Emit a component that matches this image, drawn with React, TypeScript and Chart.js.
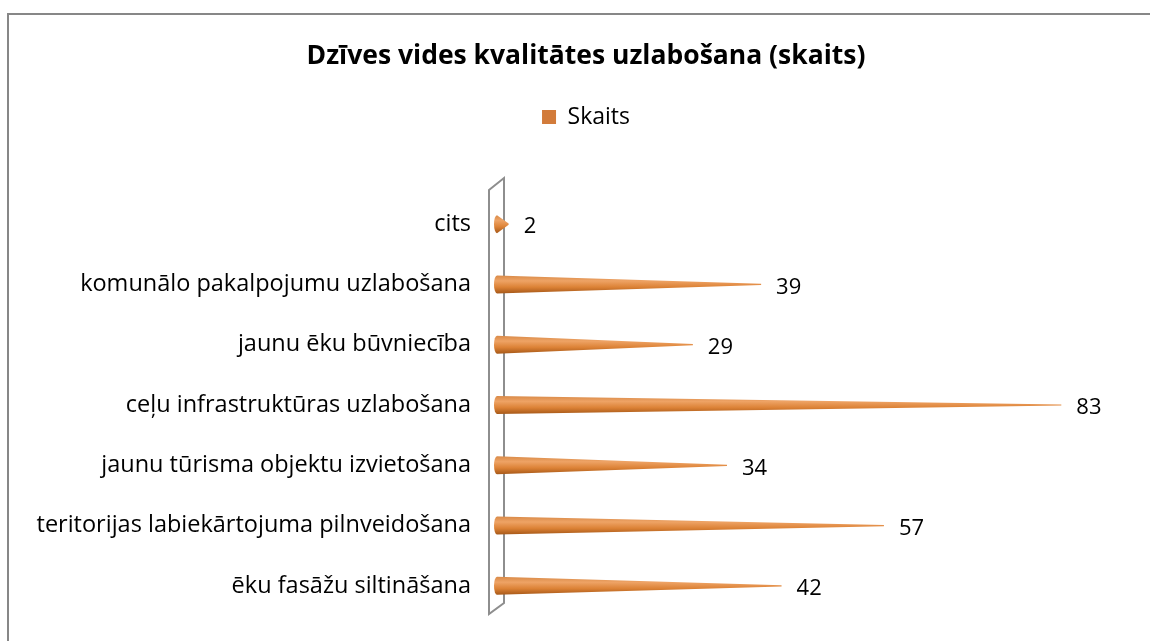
import React, { useEffect, useRef } from "react";
import { Chart, registerables } from "chart.js";

Chart.register(...registerables);

const chartTitle = "Dzīves vides kvalitātes uzlabošana (skaits)";
const seriesName = "Skaits";
const categories = [
  "cits",
  "komunālo pakalpojumu uzlabošana",
  "jaunu ēku būvniecība",
  "ceļu infrastruktūras uzlabošana",
  "jaunu tūrisma objektu izvietošana",
  "teritorijas labiekārtojuma pilnveidošana",
  "ēku fasāžu siltināšana",
];
const values = [2, 39, 29, 83, 34, 57, 42];

const FONT = "'Open Sans', 'Noto Sans', sans-serif";
const ORANGE = "#d27b3a";

const conePlugin = {
  id: "cones",
  beforeDatasetsDraw(chart: any) {
    const { ctx, chartArea } = chart;
    const base = chart.scales.x.getPixelForValue(0);
    ctx.save();
    ctx.strokeStyle = "#8e8e8e";
    ctx.lineWidth = 2;
    ctx.lineJoin = "miter";
    ctx.beginPath();
    ctx.moveTo(base - 6, chartArea.top - 4);
    ctx.lineTo(base + 9, chartArea.top - 16);
    ctx.lineTo(base + 9, chartArea.bottom - 13);
    ctx.lineTo(base - 6, chartArea.bottom - 2);
    ctx.closePath();
    ctx.stroke();
    ctx.restore();
  },
  beforeDatasetDraw() {
    return false;
  },
  afterDatasetsDraw(chart: any) {
    const { ctx } = chart;
    const meta = chart.getDatasetMeta(0);
    const ds = chart.data.datasets[0];
    meta.data.forEach((el: any, i: number) => {
      const { x, y, base, height } = el.getProps(["x", "y", "base", "height"], true);
      const h = height / 2;
      const bx = base + 2;
      ctx.save();
      const grad = ctx.createLinearGradient(0, y - h, 0, y + h);
      grad.addColorStop(0, "#d98a48");
      grad.addColorStop(0.3, "#eea365");
      grad.addColorStop(0.65, "#dc8236");
      grad.addColorStop(1, "#a65818");
      ctx.fillStyle = grad;
      ctx.beginPath();
      ctx.moveTo(bx, y - h);
      ctx.lineTo(x, y - 0.6);
      ctx.lineTo(x, y + 0.6);
      ctx.lineTo(bx, y + h);
      ctx.ellipse(bx, y, 3, h, 0, Math.PI / 2, Math.PI * 1.5);
      ctx.closePath();
      ctx.fill();
      ctx.fillStyle = "#000";
      ctx.font = `22px ${FONT}`;
      ctx.textAlign = "left";
      ctx.textBaseline = "middle";
      ctx.fillText(String(ds.data[i]), x + 15, y + 3);
      ctx.restore();
    });
  },
};

export default function App() {
  const ref = useRef<HTMLCanvasElement | null>(null);
  useEffect(() => {
    if (!ref.current) return;
    const chart = new Chart(ref.current, {
      type: "bar",
      data: {
        labels: categories,
        datasets: [
          {
            label: seriesName,
            data: values,
            backgroundColor: ORANGE,
            borderWidth: 0,
            barThickness: 18,
          },
        ],
      },
      plugins: [conePlugin],
      options: {
        indexAxis: "y",
        animation: false,
        responsive: false,
        maintainAspectRatio: false,
        layout: { padding: { left: 22, right: 0, top: 0, bottom: 25 } },
        scales: {
          x: {
            position: "top",
            min: 0,
            max: 96,
            ticks: { display: false },
            grid: { display: false },
            border: { display: false },
            afterFit(scale: any) {
              scale.height = 55.5;
              scale.paddingLeft = 0;
              scale.paddingRight = 0;
            },
          },
          y: {
            ticks: {
              autoSkip: false,
              padding: 16,
              color: "#000",
              font: { family: FONT, size: 23.5 },
            },
            grid: { display: false },
            border: { display: false },
            afterFit(scale: any) {
              scale.width = 473;
              scale.paddingTop = 0;
              scale.paddingBottom = 0;
            },
          },
        },
        plugins: {
          title: {
            display: true,
            text: chartTitle,
            color: "#000",
            font: { family: FONT, size: 26.5, weight: "bold" },
            padding: { top: 41, bottom: 22.7 },
          },
          legend: {
            display: true,
            position: "top",
            labels: {
              boxWidth: 14,
              boxHeight: 14,
              padding: 10,
              color: "#000",
              font: { family: FONT, size: 23 },
            },
          },
          tooltip: { enabled: false },
        },
      },
    });
    return () => chart.destroy();
  }, []);

  return (
    <div style={{ position: "fixed", left: 0, top: 0, width: 1150, height: 641, background: "#fff", overflow: "hidden" }}>
      <div
        style={{
          position: "absolute",
          left: 7,
          top: 13,
          width: 1143,
          height: 628,
          boxSizing: "border-box",
          borderTop: "2px solid #878787",
          borderLeft: "2px solid #878787",
        }}
      />
      <canvas ref={ref} width={1150} height={641} style={{ position: "absolute", left: 0, top: 0, width: 1150, height: 641 }} />
    </div>
  );
}
